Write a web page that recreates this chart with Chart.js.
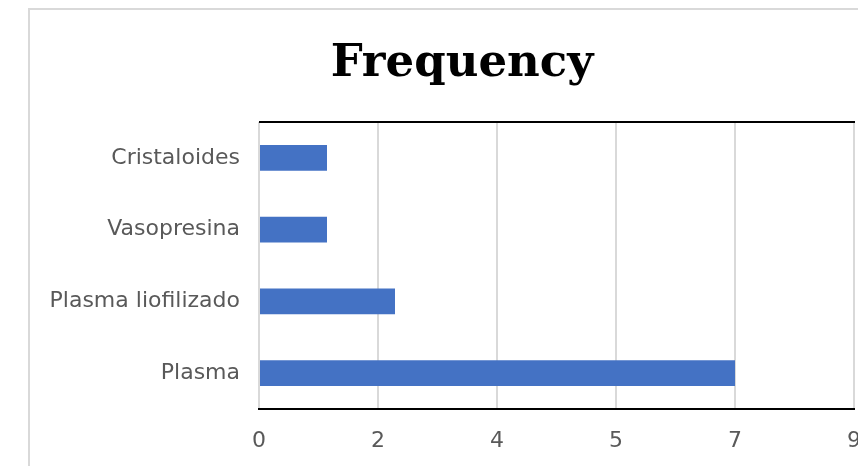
<!DOCTYPE html>
<html>
<head>
<meta charset="utf-8">
<script src="https://cdn.jsdelivr.net/npm/chart.js@4"></script>
<style>
  html, body { margin: 0; padding: 0; background: #ffffff; overflow: hidden; width: 858px; height: 466px; }
  #box { position: absolute; left: 28px; top: 8px; width: 864px; height: 470px; border: 2px solid #d9d9d9; background: #fff; }
  canvas { display: block; }
</style>
</head>
<body>
<div id="box"><canvas id="c" width="864" height="470"></canvas></div>
<script>
const categories = ['Cristaloides', 'Vasopresina', 'Plasma liofilizado', 'Plasma'];
const frequency = [1, 1, 2, 7];
const tickLabels = ['0', '2', '4', '5', '7', '9'];
const axisMax = 8.75;
const axisStep = 1.75;

const topBorder = {
  id: 'topBorder',
  afterDraw(chart) {
    const { ctx, chartArea } = chart;
    ctx.save();
    ctx.strokeStyle = '#000000';
    ctx.lineWidth = 2;
    ctx.beginPath();
    ctx.moveTo(chartArea.left, chartArea.top);
    ctx.lineTo(chartArea.right + 1, chartArea.top);
    ctx.stroke();
    ctx.restore();
  }
};

new Chart(document.getElementById('c'), {
  type: 'bar',
  data: {
    labels: categories,
    datasets: [{
      label: 'Frequency',
      data: frequency,
      backgroundColor: '#4472C4',
      borderWidth: 0,
      barPercentage: 0.36,
      categoryPercentage: 1.0
    }]
  },
  options: {
    indexAxis: 'y',
    responsive: false,
    animation: false,
    layout: { padding: { left: 0, right: 0, top: 0, bottom: 0 } },
    plugins: {
      legend: { display: false },
      tooltip: { enabled: false },
      title: {
        display: true,
        text: 'Frequency',
        color: '#000000',
        font: { family: 'DejaVu Serif', size: 45, weight: 'bold' },
        padding: { top: 27, bottom: 31 }
      }
    },
    scales: {
      x: {
        min: 0,
        max: axisMax,
        afterBuildTicks(scale) {
          scale.ticks = tickLabels.map((t, i) => ({ value: i * axisStep }));
        },
        afterFit(scale) { scale.height = 71; },
        grid: { color: '#d9d9d9', lineWidth: 2, drawTicks: false },
        border: { display: true, color: '#000000', width: 2 },
        ticks: {
          color: '#595959',
          font: { family: 'DejaVu Sans', size: 22 },
          padding: 19,
          callback: (v, i) => tickLabels[i]
        }
      },
      y: {
        afterFit(scale) { scale.width = 229; },
        grid: { display: false, drawTicks: false },
        border: { display: false },
        ticks: {
          color: '#595959',
          font: { family: 'DejaVu Sans', size: 22 },
          padding: 19
        }
      },
      yRight: {
        type: 'category',
        position: 'right',
        afterFit(scale) { scale.width = 40; },
        grid: { display: false, drawTicks: false },
        border: { display: false },
        ticks: { display: false }
      }
    }
  },
  plugins: [topBorder]
});
</script>
</body>
</html>
